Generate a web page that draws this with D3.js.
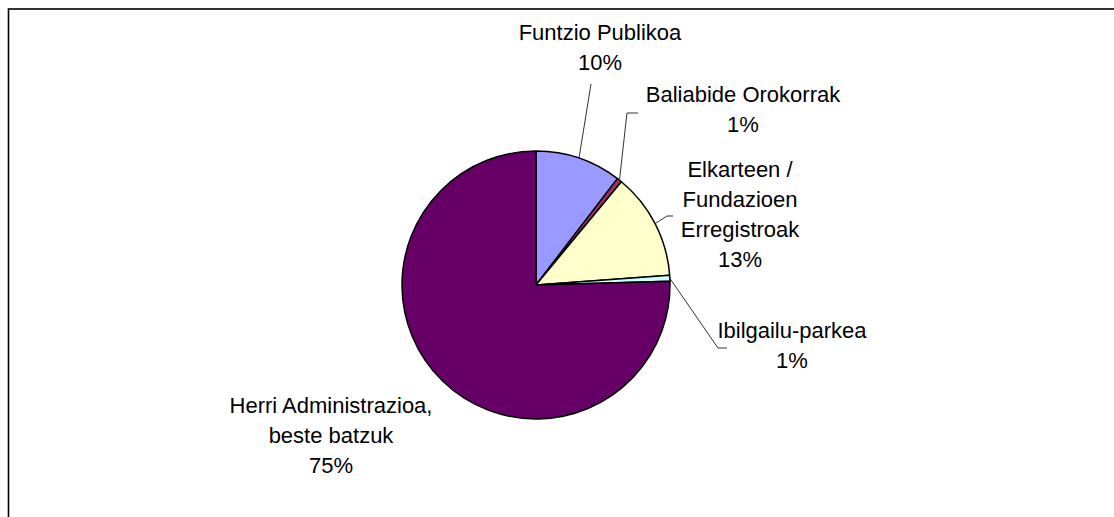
<!DOCTYPE html>
<html lang="en">
	<head>
		<meta charset="utf-8">
		<title>Pie</title>
		<script type="text/javascript" src="https://d3js.org/d3.v7.min.js"></script>
		<style>
			body { margin: 0; background: #fff; }
			text { font-family: "Liberation Sans", Arial, sans-serif; font-size: 22px; fill: #000; }
		</style>
	</head>
	<body>
		<div class="visualization"></div>
		<script type="text/javascript">
			// data (clockwise from 12 o'clock)
			var categories = ["Funtzio Publikoa", "Baliabide Orokorrak", "Elkarteen / Fundazioen Erregistroak", "Ibilgailu-parkea", "Herri Administrazioa, beste batzuk"];
			var values = [10.4, 0.6, 12.85, 0.7, 75.45];
			var colors = ["#9999FF", "#993366", "#FFFFCC", "#CCFFFF", "#660066"];
			// how each label is broken into lines
			var labelLines = [
				["Funtzio Publikoa"],
				["Baliabide Orokorrak"],
				["Elkarteen /", "Fundazioen", "Erregistroak"],
				["Ibilgailu-parkea"],
				["Herri Administrazioa,", "beste batzuk"]
			];

			var Vis = {};
			Vis.width = 1114;
			Vis.height = 517;
			Vis.cx = 536;
			Vis.cy = 285;
			Vis.radius = 134;
			Vis.lineHeight = 30;

			// label anchor (centre x, first baseline) and leader end points
			Vis.labelPos = [
				{x: 600, y: 40, leader: [[591, 84]]},
				{x: 743, y: 102, leader: [[627, 113], [638, 113]]},
				{x: 740, y: 177, leader: [[667, 216], [673, 216]]},
				{x: 792, y: 338, leader: [[718, 348], [727, 348]]},
				{x: 331, y: 413, leader: null}
			];

			Vis.svg = d3.select(".visualization")
				.append("svg")
				.attr("width", Vis.width)
				.attr("height", Vis.height);

			// chart frame (runs off the right and bottom edges)
			Vis.svg.append("rect")
				.attr("x", 8.5)
				.attr("y", 9)
				.attr("width", 1200)
				.attr("height", 700)
				.attr("fill", "none")
				.attr("stroke", "#000")
				.attr("stroke-width", 1.6);

			var dataset = categories.map(function(c, i) {
				return {name: c, value: values[i], color: colors[i], lines: labelLines[i], pos: Vis.labelPos[i]};
			});
			var total = d3.sum(values);
			var pct = d3.format(".0%");

			var pie = d3.pie().sort(null).value(d => d.value);
			var arc = d3.arc().innerRadius(0).outerRadius(Vis.radius);
			var arcs = pie(dataset);

			var g = Vis.svg.append("g")
				.attr("transform", "translate(" + Vis.cx + "," + Vis.cy + ")");

			g.selectAll("path")
				.data(arcs)
				.enter()
				.append("path")
				.attr("d", arc)
				.attr("fill", d => d.data.color)
				.attr("stroke", "#000")
				.attr("stroke-width", 1.5)
				.attr("stroke-linejoin", "round");

			// leader lines from the slice edge to the label
			arcs.forEach(function(d) {
				if (!d.data.pos.leader) return;
				var mid = (d.startAngle + d.endAngle) / 2;
				var start = [Vis.cx + Vis.radius * Math.sin(mid), Vis.cy - Vis.radius * Math.cos(mid)];
				var pts = [start].concat(d.data.pos.leader);
				Vis.svg.append("path")
					.attr("d", d3.line()(pts))
					.attr("fill", "none")
					.attr("stroke", "#333")
					.attr("stroke-width", 1);
			});

			// labels: name lines then percentage
			arcs.forEach(function(d) {
				var lines = d.data.lines.concat([pct(d.data.value / total)]);
				var t = Vis.svg.append("text")
					.attr("text-anchor", "middle")
					.attr("x", d.data.pos.x)
					.attr("y", d.data.pos.y);
				lines.forEach(function(l, i) {
					t.append("tspan")
						.attr("x", d.data.pos.x)
						.attr("dy", i == 0 ? 0 : Vis.lineHeight)
						.text(l);
				});
			});
		</script>
	</body>
</html>
